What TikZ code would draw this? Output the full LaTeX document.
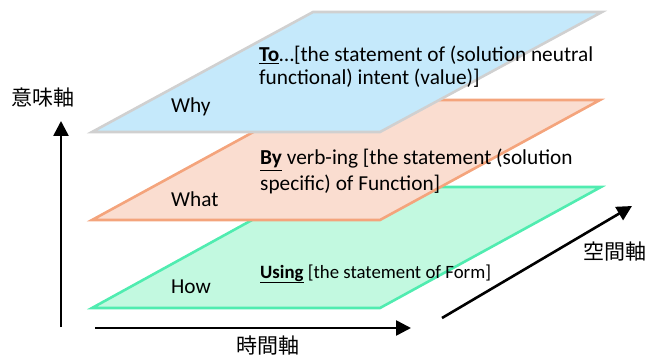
\documentclass[tikz,border=0pt]{standalone}
\usepackage{fontspec}
\setmainfont{Carlito}
\newfontfamily\jpfont{Noto Sans CJK JP}
\usetikzlibrary{arrows.meta}
\definecolor{bluefill}{RGB}{197,233,251}
\definecolor{blueedge}{RGB}{208,208,208}
\definecolor{orangefill}{RGB}{250,221,208}
\definecolor{orangeedge}{RGB}{244,164,124}
\definecolor{greenfill}{RGB}{194,249,224}
\definecolor{greenedge}{RGB}{80,236,176}
\tikzset{
  plane/.style={line width=2.6pt, line join=miter},
  axis/.style={line width=2.6pt, -{Triangle[length=15pt,width=15pt]}},
  lbl/.style={anchor=base west, inner sep=0pt, font=\fontsize{21.3}{25}\selectfont},
  small/.style={anchor=base west, inner sep=0pt, font=\fontsize{18.8}{22}\selectfont},
  jp/.style={inner sep=0pt, font=\jpfont\fontsize{21}{25}\selectfont}
}
\begin{document}
\begin{tikzpicture}[x=1pt,y=-1pt]
\useasboundingbox (0,0) rectangle (650,358);
% planes
\draw[plane, draw=greenedge, fill=greenfill] (92,308) -- (380,308) -- (601,187) -- (312,187) -- cycle;
\draw[plane, draw=orangeedge, fill=orangefill] (92,220) -- (380,220) -- (600,100) -- (312,100) -- cycle;
\draw[plane, draw=blueedge, fill=bluefill] (92,132) -- (380,132) -- (602,12) -- (313,12) -- cycle;
% texts
\node[lbl] (why) at (171,113) {Why};
\node[lbl] (what) at (171,207) {What};
\node[lbl] (how) at (171,293) {How};
\node[lbl] (to1) at (259,62) {\underline{\textbf{To}}…[the statement of (solution neutral};
\node[lbl] (to2) at (259,85) {functional) intent (value)]};
\node[lbl] (by1) at (260,165) {\underline{\textbf{By}} verb-ing [the statement (solution};
\node[lbl] (by2) at (260,190) {specific) of Function]};
\node[small] (using) at (260,278) {\underline{\textbf{Using}} [the statement of Form]};
% axes
\coordinate (v0) at (61,327);
\coordinate (v1) at (61,121);
\coordinate (h0) at (95,328);
\coordinate (h1) at (411,328);
\coordinate (d0) at (442,318);
\coordinate (d1) at (632,206);
\draw[axis] (v0) -- (v1);
\draw[axis] (h0) -- (h1);
\draw[axis] (d0) -- (d1);
\node[jp] (imi) at (43,98) {意味軸};
\node[jp] (jikan) at (268,346) {時間軸};
\node[jp] (kukan) at (615,252) {空間軸};
\end{tikzpicture}
\end{document}
